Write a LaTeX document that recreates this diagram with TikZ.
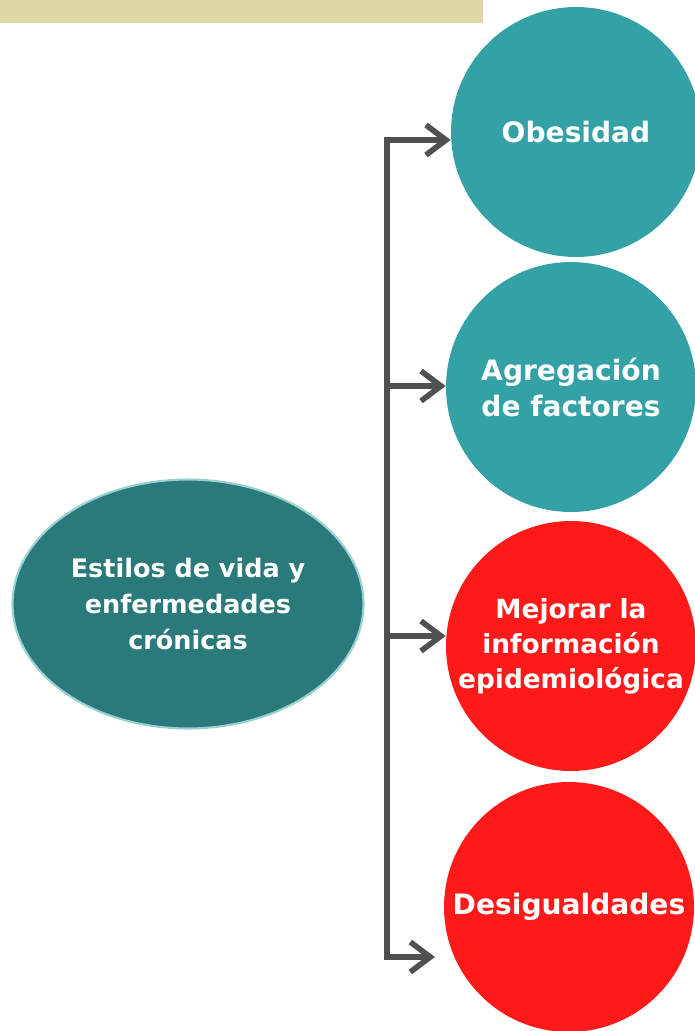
\documentclass[tikz,border=0pt]{standalone}
\usepackage{fontspec}
\setmainfont{DejaVu Sans}
\usepackage{tikz}
\usetikzlibrary{arrows.meta,shapes.geometric}

\definecolor{bandtan}{HTML}{DED8A6}
\definecolor{circteal}{HTML}{33A1A5}
\definecolor{ovalteal}{HTML}{2A7A7C}
\definecolor{ovalrim}{HTML}{9ACFD0}
\definecolor{circred}{HTML}{FF1A1A}
\definecolor{linegray}{HTML}{505050}

\begin{document}
\begin{tikzpicture}[
        x=0.02cm, y=-0.02cm,
        topic/.style = {circle, minimum size=5cm, inner sep=0pt, align=center,
                        text=white, font=\bfseries\fontsize{16}{20.5}\selectfont},
        tealc/.style = {topic, fill=circteal},
        redc/.style  = {topic, fill=circred},
        main/.style  = {ellipse, minimum width=7.02cm, minimum height=4.98cm, inner sep=0pt,
                        fill=ovalteal, draw=ovalrim, line width=1.2pt, align=center,
                        text=white, font=\bfseries\fontsize{14.5}{20.4}\selectfont},
        conn/.style  = {line width=3.2pt, linegray},
        barb/.tip    = {Straight Barb[length=4mm, width=6mm]},
    ]
        \useasboundingbox (0,0) rectangle (695,1031);

        % ---- franja superior ----
        \fill[bandtan] (0,0) rectangle (483,23);

        % ---- nodos: círculos a la derecha, óvalo a la izquierda ----
        \node (obes)    [tealc] at (576, 132) {Obesidad};
        \node (agreg)   [tealc] at (571, 387) {Agregación\\de factores};
        \node (mejor)   [redc, font=\bfseries\fontsize{15}{20}\selectfont]
                                at (571, 646) {Mejorar la\\información\\epidemiológica};
        \node (desig)   [redc]  at (569, 907) {Desigualdades};
        \node (estilos) [main]  at (188, 604) {Estilos de vida y\\enfermedades\\crónicas};

        % ---- puntos del eje vertical ----
        \coordinate (j1) at (387, 140);
        \coordinate (j2) at (387, 386);
        \coordinate (j3) at (387, 636);
        \coordinate (j4) at (387, 957);
        \coordinate (t4) at (435, 957);

        % ---- eje con flechas extremas ----
        \draw[conn, barb-barb] (j1 -| obes.west) -- (j1) -- (j4) -- (t4);

        % ---- flechas intermedias ----
        \draw[conn, -barb] (j2) -- (j2 -| agreg.west);
        \draw[conn, -barb] (j3) -- (j3 -| mejor.west);
    \end{tikzpicture}
\end{document}
